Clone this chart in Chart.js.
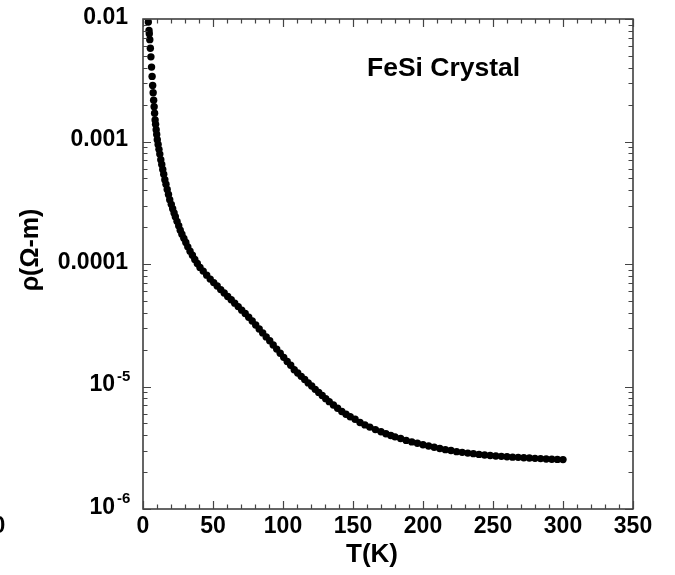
<!DOCTYPE html>
<html lang="en">
<head>
  <meta charset="UTF-8">
  <title>FeSi Crystal - resistivity vs temperature</title>
  <script src="https://cdn.jsdelivr.net/npm/chart.js"></script>
  <style>
    body {
      margin: 0;
      background: #fff;
    }
    canvas {
      display: block;
    }
  </style>
</head>
<body>

<canvas id="rhoChart" width="675" height="575"></canvas>

<script>
  // measured temperature (K) and resistivity (ohm-m)
  const temps = [
    3.8, 4.3, 4.5, 4.85, 5.25, 5.65, 6.1, 6.5, 6.9, 7.25,
    7.6, 7.95, 8.3, 8.65, 9.0, 9.4, 9.8, 10.2, 10.8, 11.4,
    12.0, 12.7, 13.4, 14.1, 14.8, 15.6, 16.4, 17.3, 18.2, 19.1,
    20.2, 21.2, 22.2, 23.1, 24.3, 25.5, 26.6, 27.8, 29.2, 30.6,
    32.0, 33.6, 35.3, 37.0, 38.8, 40.7, 43.0, 45.5, 48.0, 50.5,
    53.0, 55.5, 58.0, 60.5, 63.0, 65.5, 68.0, 70.5, 73.0, 75.5,
    78.0, 80.5, 83.0, 85.5, 88.0, 90.5, 93.0, 95.5, 98.0, 100.5,
    103, 105.5, 108, 110.5, 113, 115.5, 118, 120.5, 123, 125.5,
    128, 130.5, 133, 136, 139, 142, 145, 148, 151.5, 155,
    158.5, 162, 166, 170, 173.5, 177, 180, 184, 188, 192,
    196, 200, 204, 208, 212, 216, 220, 224, 228, 232,
    236, 240, 244, 248, 252, 256, 260, 264, 268, 272,
    276, 280, 284, 288, 292, 296, 300
  ];

  const rho = [
    9.44e-3, 8.07e-3, 7.57e-3, 6.78e-3, 5.77e-3, 4.91e-3, 4.05e-3, 3.40e-3, 2.87e-3, 2.50e-3,
    2.17e-3, 1.92e-3, 1.70e-3, 1.50e-3, 1.38e-3, 1.25e-3, 1.14e-3, 1.035e-3, 9.46e-4, 8.63e-4,
    7.89e-4, 7.10e-4, 6.49e-4, 5.92e-4, 5.41e-4, 4.88e-4, 4.48e-4, 4.06e-4, 3.69e-4, 3.35e-4,
    3.07e-4, 2.83e-4, 2.61e-4, 2.43e-4, 2.23e-4, 2.05e-4, 1.89e-4, 1.75e-4, 1.62e-4, 1.50e-4,
    1.38e-4, 1.27e-4, 1.18e-4, 1.09e-4, 1.01e-4, 9.38e-5, 8.75e-5, 8.11e-5, 7.53e-5, 7.05e-5,
    6.61e-5, 6.18e-5, 5.79e-5, 5.43e-5, 5.11e-5, 4.79e-5, 4.49e-5, 4.20e-5, 3.94e-5, 3.68e-5,
    3.43e-5, 3.18e-5, 2.95e-5, 2.74e-5, 2.54e-5, 2.36e-5, 2.18e-5, 2.02e-5, 1.87e-5, 1.73e-5,
    1.60e-5, 1.49e-5, 1.37e-5, 1.29e-5, 1.21e-5, 1.14e-5, 1.07e-5, 1.01e-5, 9.48e-6, 8.95e-6,
    8.45e-6, 7.96e-6, 7.52e-6, 7.06e-6, 6.64e-6, 6.25e-6, 5.93e-6, 5.66e-6, 5.41e-6, 5.08e-6,
    4.86e-6, 4.66e-6, 4.45e-6, 4.27e-6, 4.12e-6, 3.98e-6, 3.88e-6, 3.76e-6, 3.63e-6, 3.53e-6,
    3.44e-6, 3.35e-6, 3.27e-6, 3.19e-6, 3.12e-6, 3.05e-6, 3.00e-6, 2.94e-6, 2.90e-6, 2.86e-6,
    2.83e-6, 2.79e-6, 2.76e-6, 2.73e-6, 2.71e-6, 2.69e-6, 2.67e-6, 2.65e-6, 2.64e-6, 2.62e-6,
    2.61e-6, 2.59e-6, 2.58e-6, 2.56e-6, 2.55e-6, 2.54e-6, 2.53e-6
  ];

  const xTickValues = [0, 50, 100, 150, 200, 250, 300, 350];
  const xTickLabels = ['0', '50', '100', '150', '200', '250', '300', '350'];

  const yTickValues = [1e-2, 1e-3, 1e-4, 1e-5, 1e-6];
  const yTickLabels = ['0.01', '0.001', '0.0001', '10', '10'];
  const yTickExps = ['', '', '', '-5', '-6'];

  const FONT = '"Liberation Sans", Arial, Helvetica, sans-serif';

  // frame, inward ticks on all four sides and all the text
  const framePlugin = {
    id: 'frame',
    afterDatasetsDraw(chart) {
      const { ctx, chartArea: a, scales: { x, y } } = chart;
      ctx.save();

      ctx.strokeStyle = '#333';
      ctx.lineWidth = 1.5;
      ctx.strokeRect(a.left, a.top, a.right - a.left, a.bottom - a.top);

      ctx.strokeStyle = '#444';
      ctx.lineWidth = 1.2;
      ctx.beginPath();
      for (let t = 0; t <= 350; t += 10) {
        const px = Math.round(x.getPixelForValue(t)) + 0.5;
        const len = t % 50 === 0 ? 8 : 4.5;
        ctx.moveTo(px, a.bottom);
        ctx.lineTo(px, a.bottom - len);
        ctx.moveTo(px, a.top);
        ctx.lineTo(px, a.top + len);
      }
      for (let e = -6; e <= -2; e++) {
        for (let m = 1; m <= 9; m++) {
          if (e === -2 && m > 1) break;
          const py = Math.round(y.getPixelForValue(m * Math.pow(10, e))) + 0.5;
          const len = m === 1 ? 8 : 4.5;
          ctx.moveTo(a.left, py);
          ctx.lineTo(a.left + len, py);
          ctx.moveTo(a.right, py);
          ctx.lineTo(a.right - len, py);
        }
      }
      ctx.stroke();

      ctx.fillStyle = '#000';

      // x tick labels
      ctx.font = 'bold 23px ' + FONT;
      ctx.textAlign = 'center';
      ctx.textBaseline = 'alphabetic';
      xTickValues.forEach((v, i) => {
        ctx.fillText(xTickLabels[i], x.getPixelForValue(v), 533);
      });
      // label of the neighbouring panel, cut by the left edge
      ctx.fillText('0', -1, 533);

      // y tick labels, powers of ten with a raised exponent
      yTickValues.forEach((v, i) => {
        const py = y.getPixelForValue(v);
        if (yTickExps[i]) {
          ctx.font = 'bold 23px ' + FONT;
          ctx.textAlign = 'right';
          ctx.fillText(yTickLabels[i], 115, py + 4.5);
          ctx.font = 'bold 15px ' + FONT;
          ctx.textAlign = 'left';
          ctx.fillText(yTickExps[i], 117, py - 6);
        } else {
          ctx.font = 'bold 23px ' + FONT;
          ctx.textAlign = 'right';
          ctx.fillText(yTickLabels[i], 128, py + 4.5);
        }
      });

      // axis titles
      ctx.font = 'bold 26px ' + FONT;
      ctx.textAlign = 'center';
      ctx.fillText('T(K)', 372, 562);

      ctx.save();
      ctx.translate(31, 250);
      ctx.rotate(-Math.PI / 2);
      ctx.textBaseline = 'middle';
      ctx.font = 'bold 25px ' + FONT;
      ctx.fillText('ρ(Ω-m)', 0, 0);
      ctx.restore();

      ctx.font = 'bold 26.5px ' + FONT;
      ctx.textAlign = 'left';
      ctx.fillText('FeSi Crystal', 367, 76);

      ctx.restore();
    }
  };

  const ctx = document.getElementById('rhoChart').getContext('2d');

  new Chart(ctx, {
    type: 'scatter',
    data: {
      datasets: [{
        data: temps.map((t, i) => ({ x: t, y: rho[i] })),
        showLine: true,
        borderColor: '#000',
        borderWidth: 4,
        segment: {
          // the first low-T points stand apart
          borderColor: c => c.p1.parsed.x <= 9 ? 'rgba(0,0,0,0)' : '#000'
        },
        pointRadius: 3.7,
        pointBorderWidth: 0,
        pointBackgroundColor: '#000',
        pointHoverRadius: 3.7
      }]
    },
    options: {
      responsive: false,
      devicePixelRatio: 1,
      animation: false,
      layout: {
        padding: { left: 0, top: 19, right: 42, bottom: 0 }
      },
      plugins: {
        legend: { display: false },
        tooltip: { enabled: false }
      },
      scales: {
        x: {
          type: 'linear',
          min: 0,
          max: 350,
          grid: { display: false },
          border: { display: false },
          ticks: { display: false },
          afterFit: s => { s.height = 66; }
        },
        y: {
          type: 'logarithmic',
          min: 1e-6,
          max: 1e-2,
          grid: { display: false },
          border: { display: false },
          ticks: { display: false },
          afterFit: s => { s.width = 143; }
        }
      }
    },
    plugins: [framePlugin]
  });
</script>

</body>
</html>
